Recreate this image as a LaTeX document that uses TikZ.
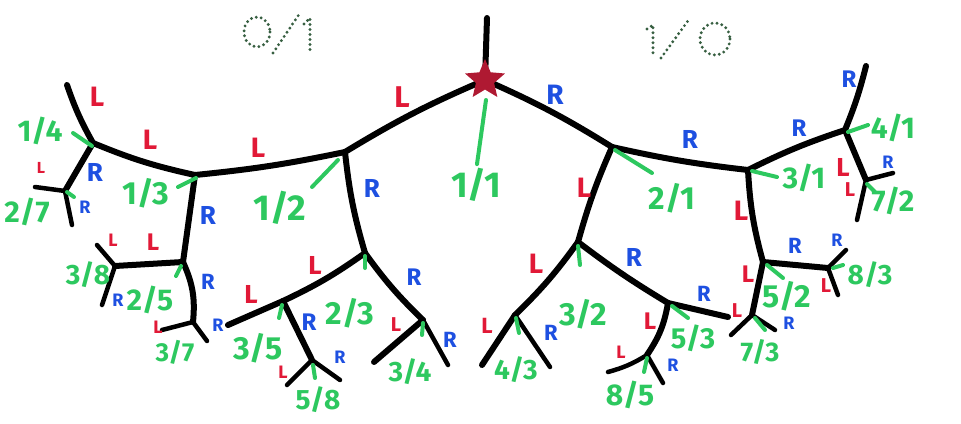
\documentclass[tikz,border=0pt]{standalone}
\usepackage{fontspec}
\setmainfont{Fira Sans}
\usetikzlibrary{shapes.geometric}
\definecolor{fgreen}{RGB}{45,200,95}
\definecolor{cred}{RGB}{225,25,55}
\definecolor{cblue}{RGB}{30,80,225}
\definecolor{cstar}{RGB}{175,25,50}
\definecolor{dotc}{RGB}{55,95,65}
\tikzset{
  main/.style={line width=6pt, line cap=round, line join=round, black},
  leaf/.style={line width=4.5pt, line cap=round, black},
  tick/.style={line width=4pt, line cap=round, fgreen},
  frac/.style={text=fgreen, font=\bfseries\fontsize{#1}{#1}\selectfont, inner sep=0pt},
  frac/.default=30,
  redL/.style={text=cred, font=\bfseries\fontsize{#1}{#1}\selectfont, inner sep=0pt},
  redL/.default=26,
  blueR/.style={text=cblue, font=\bfseries\fontsize{#1}{#1}\selectfont, inner sep=0pt},
  blueR/.default=26,
  dotline/.style={dotc, line width=3.2pt, line cap=round, dash pattern=on 0pt off 5pt},
}
\begin{document}
\begin{tikzpicture}[x=1pt,y=-1pt]
\useasboundingbox (0,0) rectangle (961,423);
\fill[white] (0,0) rectangle (961,423);
% dotted end labels
\draw[dotline] (257,32) ellipse [x radius=13, y radius=15];
\draw[dotline] (273,53) -- (300,13);
\draw[dotline] (304,24) -- (310,18) -- (310,50);
\draw[dotline] (647,29) -- (653,25) -- (653,55);
\draw[dotline] (661,58) -- (690,18);
\draw[dotline] (715,39) ellipse [x radius=15, y radius=16];
% tree coordinates
\coordinate (top) at (487,18);
\coordinate (n11) at (485,80);
\coordinate (n12) at (345,152);
\coordinate (n13) at (195,175);
\coordinate (n14) at (93,143);
\coordinate (t14) at (67,85);
\coordinate (n27) at (65,191);
\coordinate (l27a) at (35,187);
\coordinate (l27b) at (72,225);
\coordinate (n25) at (183,262);
\coordinate (n38) at (115,266);
\coordinate (l38a) at (97,245);
\coordinate (l38b) at (102,305);
\coordinate (n37) at (193,322);
\coordinate (l37a) at (162,330);
\coordinate (l37b) at (207,341);
\coordinate (n23) at (365,253);
\coordinate (n35) at (283,301);
\coordinate (l35a) at (228,325);
\coordinate (n58) at (312,360);
\coordinate (l58a) at (287,385);
\coordinate (l58b) at (340,380);
\coordinate (n34) at (423,320);
\coordinate (l34a) at (374,362);
\coordinate (l34b) at (448,365);
\coordinate (n21) at (612,147);
\coordinate (n31) at (748,170);
\coordinate (n41) at (845,130);
\coordinate (t41) at (866,66);
\coordinate (n72) at (866,180);
\coordinate (l72a) at (893,173);
\coordinate (l72b) at (857,220);
\coordinate (n52) at (763,262);
\coordinate (n83) at (828,268);
\coordinate (l83a) at (846,250);
\coordinate (l83b) at (838,295);
\coordinate (n73) at (752,315);
\coordinate (l73a) at (731,335);
\coordinate (l73b) at (775,330);
\coordinate (n32) at (578,242);
\coordinate (n43) at (515,315);
\coordinate (l43a) at (482,365);
\coordinate (l43b) at (550,367);
\coordinate (n53) at (668,303);
\coordinate (l53b) at (728,317);
\coordinate (n85) at (647,355);
\coordinate (l85a) at (608,372);
\coordinate (l85b) at (663,383);
% main edges
\draw[main] (top) -- (n11);
\draw[main] (n11) to[bend right=4] (n12);
\draw[main] (n12) to[bend left=3] (n13);
\draw[main] (n13) to[bend left=5] (n14);
\draw[main] (n14) to[bend left=5] (t14);
\draw[main] (n14) -- (n27);
\draw[main] (n13) -- (n25);
\draw[main] (n25) -- (n38);
\draw[main] (n25) to[bend left=15] (n37);
\draw[main] (n12) to[bend right=5] (n23);
\draw[main] (n23) to[bend left=5] (n35);
\draw[main] (n35) -- (n58);
\draw[main] (n23) to[bend right=5] (n34);
\draw[main] (n11) to[bend left=4] (n21);
\draw[main] (n21) to[bend right=3] (n31);
\draw[main] (n31) to[bend left=4] (n41);
\draw[main] (n41) to[bend right=4] (t41);
\draw[main] (n41) -- (n72);
\draw[main] (n31) to[bend right=6] (n52);
\draw[main] (n52) -- (n83);
\draw[main] (n52) -- (n73);
\draw[main] (n21) to[bend right=4] (n32);
\draw[main] (n32) to[bend left=5] (n43);
\draw[main] (n32) to[bend right=3] (n53);
\draw[main] (n53) to[bend left=12] (n85);
% leaves
\draw[leaf] (n27) -- (l27a);
\draw[leaf] (n27) -- (l27b);
\draw[leaf] (n38) -- (l38a);
\draw[leaf] (n38) -- (l38b);
\draw[leaf] (n37) -- (l37a);
\draw[leaf] (n37) -- (l37b);
\draw[main] (n35) -- (l35a);
\draw[leaf] (n58) -- (l58a);
\draw[leaf] (n58) -- (l58b);
\draw[main] (n34) -- (l34a);
\draw[leaf] (n34) -- (l34b);
\draw[leaf] (n72) -- (l72a);
\draw[leaf] (n72) -- (l72b);
\draw[leaf] (n83) -- (l83a);
\draw[leaf] (n83) -- (l83b);
\draw[leaf] (n73) -- (l73a);
\draw[leaf] (n73) -- (l73b);
\draw[main] (n43) -- (l43a);
\draw[leaf] (n43) -- (l43b);
\draw[main] (n53) -- (l53b);
\draw[leaf] (n85) to[bend left=8] (l85a);
\draw[leaf] (n85) -- (l85b);
% star
\node[star, star points=5, star point ratio=2.2, minimum size=42pt, fill=cstar, inner sep=0pt] (starnode) at (n11) {};
% fraction labels
\node[frac=36] (f11) at (476,185) {1/1};
\node[frac=36] (f12) at (280,208) {1/2};
\node[frac=32] (f13) at (146,193) {1/3};
\node[frac=30] (f14) at (40,131) {1/4};
\node[frac=30] (f27) at (27,212) {2/7};
\node[frac=28] (f38) at (88,275) {3/8};
\node[frac=30] (f25) at (150,300) {2/5};
\node[frac=26] (f37) at (175,352) {3/7};
\node[frac=32] (f35) at (258,348) {3/5};
\node[frac=32] (f23) at (350,313) {2/3};
\node[frac=28] (f58) at (318,400) {5/8};
\node[frac=28] (f34) at (410,372) {3/4};
\node[frac=32] (f21) at (672,198) {2/1};
\node[frac=30] (f31) at (804,178) {3/1};
\node[frac=30] (f41) at (893,128) {4/1};
\node[frac=30] (f72) at (893,201) {7/2};
\node[frac=32] (f32) at (583,314) {3/2};
\node[frac=28] (f43) at (516,370) {4/3};
\node[frac=29] (f53) at (693,338) {5/3};
\node[frac=30] (f85) at (630,395) {8/5};
\node[frac=32] (f52) at (787,296) {5/2};
\node[frac=28] (f83) at (870,275) {8/3};
\node[frac=27] (f73) at (760,352) {7/3};
% green ticks
\draw[tick] (f11.north) ++(1,-4) coordinate (g11) -- (486,100) coordinate (h11);
\draw[tick] (312,187) coordinate (g12) -- (338,160) coordinate (h12);
\draw[tick] (178,187) coordinate (g13) -- (196,178) coordinate (h13);
\draw[tick] (73,133) coordinate (g14) -- (92,146) coordinate (h14);
\draw[tick] (74,197) coordinate (g27) -- (67,192) coordinate (h27);
\draw[tick] (176,276) coordinate (g25) -- (181,266) coordinate (h25);
\draw[tick] (365,268) coordinate (g23) -- (365,256) coordinate (h23);
\draw[tick] (279,318) coordinate (g35) -- (282,305) coordinate (h35);
\draw[tick] (315,378) coordinate (g58) -- (313,365) coordinate (h58);
\draw[tick] (422,335) coordinate (g34) -- (423,323) coordinate (h34);
\draw[tick] (652,173) coordinate (g21) -- (615,150) coordinate (h21);
\draw[tick] (777,177) coordinate (g31) -- (752,171) coordinate (h31);
\draw[tick] (868,125) coordinate (g41) -- (848,132) coordinate (h41);
\draw[tick] (875,192) coordinate (g72) -- (867,184) coordinate (h72);
\draw[tick] (580,265) coordinate (g32) -- (578,246) coordinate (h32);
\draw[tick] (519,333) coordinate (g43) -- (516,318) coordinate (h43);
\draw[tick] (688,318) coordinate (g53) -- (672,306) coordinate (h53);
\draw[tick] (644,372) coordinate (g85) -- (647,358) coordinate (h85);
\draw[tick] (783,278) coordinate (g52) -- (767,265) coordinate (h52);
\draw[tick] (843,265) coordinate (g83) -- (833,268) coordinate (h83);
\draw[tick] (765,330) coordinate (g73) -- (755,318) coordinate (h73);
% L / R labels, left half
\node[redL=30] (a1) at (402,97) {L};
\node[redL=28] (a2) at (258,148) {L};
\node[redL=28] (a3) at (150,140) {L};
\node[redL=28] (a4) at (97,97) {L};
\node[blueR=26] (a5) at (95,172) {R};
\node[blueR=18] (a6) at (85,207) {R};
\node[redL=16] (a7) at (41,168) {L};
\node[blueR=26] (a8) at (208,215) {R};
\node[redL=24] (a9) at (153,242) {L};
\node[redL=18] (a10) at (113,240) {L};
\node[blueR=18] (a11) at (118,300) {R};
\node[blueR=22] (a12) at (208,282) {R};
\node[redL=18] (a13) at (158,327) {L};
\node[blueR=18] (a14) at (218,325) {R};
\node[blueR=26] (a15) at (372,188) {R};
\node[redL=26] (a16) at (315,265) {L};
\node[redL=26] (a17) at (251,294) {L};
\node[blueR=24] (a18) at (309,322) {R};
\node[redL=18] (a19) at (283,372) {L};
\node[blueR=18] (a20) at (340,357) {R};
\node[blueR=24] (a21) at (414,277) {R};
\node[redL=20] (a22) at (396,325) {L};
\node[blueR=22] (a23) at (450,340) {R};
% L / R labels, right half
\node[blueR=28] (b1) at (555,95) {R};
\node[blueR=26] (b2) at (690,139) {R};
\node[blueR=24] (b3) at (799,128) {R};
\node[blueR=24] (b4) at (849,79) {R};
\node[redL=26] (b5) at (843,167) {L};
\node[blueR=18] (b6) at (888,162) {R};
\node[redL=20] (b7) at (850,190) {L};
\node[redL=28] (b8) at (584,188) {L};
\node[redL=28] (b9) at (741,211) {L};
\node[blueR=22] (b10) at (795,246) {R};
\node[blueR=18] (b11) at (837,240) {R};
\node[redL=20] (b12) at (826,286) {L};
\node[redL=24] (b13) at (748,274) {L};
\node[blueR=18] (b14) at (789,323) {R};
\node[redL=20] (b15) at (737,311) {L};
\node[redL=28] (b16) at (536,264) {L};
\node[blueR=26] (b17) at (634,257) {R};
\node[redL=22] (b18) at (487,326) {L};
\node[blueR=22] (b19) at (551,333) {R};
\node[blueR=22] (b20) at (704,294) {R};
\node[redL=24] (b21) at (650,321) {L};
\node[redL=18] (b22) at (621,352) {L};
\node[blueR=18] (b23) at (673,365) {R};
\end{tikzpicture}
\end{document}
